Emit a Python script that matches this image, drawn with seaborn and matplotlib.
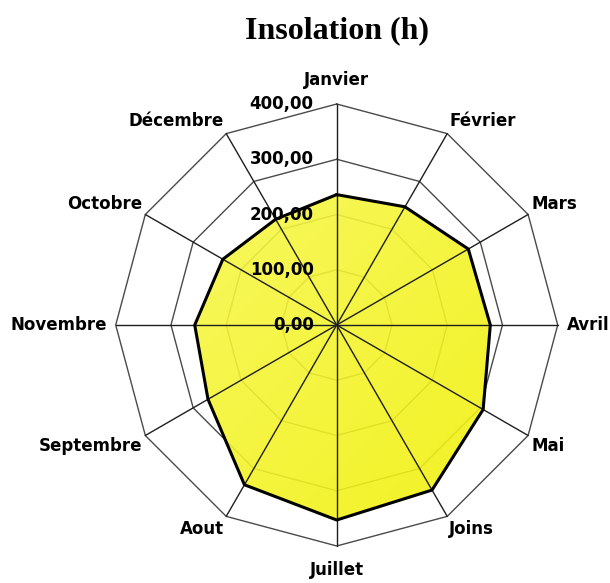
import numpy as np
import matplotlib
matplotlib.use("Agg")
import matplotlib.pyplot as plt
import seaborn as sns

# ---- data (clockwise from top) ----
months = ["Janvier", "Février", "Mars", "Avril", "Mai", "Joins", "Juillet",
          "Aout", "Septembre", "Novembre", "Octobre", "Décembre"]
insolation = [236, 247, 275, 278, 306, 345, 353, 334, 269, 257, 238, 221]
ring_levels = [0, 100, 200, 300, 400]
title_text = "Insolation (h)"

sns.set_theme(style="white")
plt.rcParams["font.family"] = ["DejaVu Sans"]
plt.rcParams["text.color"] = "black"

fig = plt.figure(figsize=(6.10, 5.83), dpi=100)
ax = fig.add_axes([0.1897, 0.0635, 0.7246, 0.7581], projection="polar")
ax.set_theta_zero_location("N")
ax.set_theta_direction(-1)
ax.set_facecolor("none")
ax.grid(False)
ax.spines["polar"].set_visible(False)
ax.set_xticks([])
ax.set_yticks([])

n = len(months)
theta = np.linspace(0, 2 * np.pi, n, endpoint=False)
theta_c = np.append(theta, theta[0])
vals_c = np.append(insolation, insolation[0])
rmax = ring_levels[-1]

ax.set_xlim(0, 2 * np.pi)
ax.set_ylim(0, rmax)
ax.set_autoscale_on(False)

# polygon rings (under the fill)
for lv in ring_levels[1:]:
    ax.plot(theta_c, [lv] * len(theta_c), color="#4a4a4a", lw=1.0, zorder=1,
            clip_on=False)

# gradient fill clipped to the data polygon
poly = ax.fill(theta_c, vals_c, facecolor="none", edgecolor="none", zorder=2)[0]
m = 200
yy, xx = np.mgrid[0:1:m * 1j, 0:1:m * 1j]
t = np.clip((xx + (1 - yy)) / 2, 0, 1)[..., None]
pale = np.array([248, 248, 95]) / 255
sat = np.array([240, 240, 0]) / 255
grad = pale * (1 - t) + sat * t
im = ax.imshow(grad, extent=(0, 1, 0, 1), transform=ax.transAxes, origin="lower",
               aspect="auto", interpolation="bilinear", zorder=2, alpha=0.9)
im.set_clip_path(poly)
ax.set_xlim(0, 2 * np.pi)
ax.set_ylim(0, rmax)

# spokes
for th in theta:
    ax.plot([th, th], [0, rmax], color="#1e1e1e", lw=1.0, zorder=3, clip_on=False)

# outline via seaborn
sns.lineplot(x=theta_c, y=vals_c, ax=ax, sort=False, color="black", lw=2.2,
             zorder=4, estimator=None)

# radial tick labels
for lv in ring_levels:
    ax.annotate(f"{lv:.2f}".replace(".", ","), xy=(0, lv), xytext=(-23, 0),
                textcoords="offset pixels", ha="right", va="center",
                fontsize=12, fontweight="bold", color="black", zorder=5,
                annotation_clip=False)

# category labels
for th, lab in zip(theta, months):
    s, c = np.sin(th), np.cos(th)
    if abs(s) < 0.01:
        d = 15
    elif abs(c) < 0.01:
        d = 9
    else:
        d = 4
    ha = "left" if s > 0.01 else ("right" if s < -0.01 else "center")
    va = "bottom" if c > 0.01 else ("top" if c < -0.01 else "center")
    ax.annotate(lab, xy=(th, rmax), xytext=(d * s, d * c),
                textcoords="offset pixels", ha=ha, va=va, fontsize=12,
                fontweight="bold", color="black", annotation_clip=False)

fig.text(0.552, 0.948, title_text, ha="center", va="center", color="black",
         fontsize=23, fontweight="bold", family=["Liberation Serif"])

fig.savefig("out.png", dpi=100, facecolor="white")
